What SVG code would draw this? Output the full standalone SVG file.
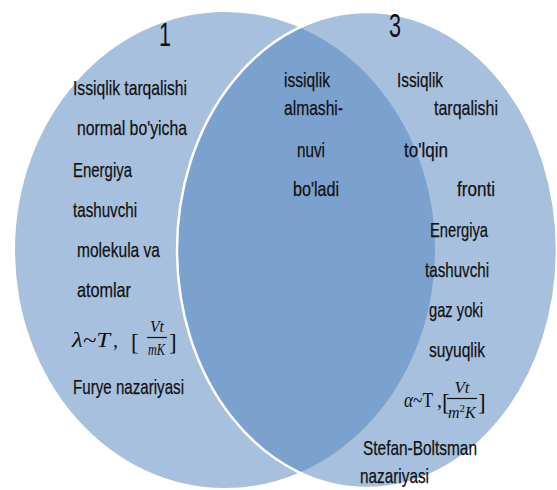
<svg xmlns="http://www.w3.org/2000/svg" width="557" height="490" viewBox="0 0 557 490">
<style>
.c{fill:#4F81BD;fill-opacity:0.5}
.t{font-family:"Liberation Sans",Arial,sans-serif;font-size:21px;fill:#111;stroke:#111;stroke-width:0.25}
.n{font-family:"Liberation Sans",Arial,sans-serif;font-size:33px;fill:#111}
.m{font-family:"Liberation Serif","Times New Roman",serif;font-style:italic;fill:#111}
.r{font-family:"Liberation Serif","Times New Roman",serif;fill:#111}
</style>
<rect width="557" height="490" fill="#fff"/>
<g id="set1">
<ellipse class="c" cx="225" cy="250" rx="210" ry="238"/>
</g>
<g id="set3">
<ellipse class="c" cx="367" cy="250" rx="190" ry="238" stroke="#fff" stroke-width="2.5"/>
</g>
<g id="set1-text">
<text class="n" x="159" y="46" textLength="12" lengthAdjust="spacingAndGlyphs">1</text>
<text class="t" x="73" y="95" textLength="114" lengthAdjust="spacingAndGlyphs">Issiqlik tarqalishi</text>
<text class="t" x="77" y="135" textLength="110" lengthAdjust="spacingAndGlyphs">normal bo'yicha</text>
<text class="t" x="73" y="177" textLength="59" lengthAdjust="spacingAndGlyphs">Energiya</text>
<text class="t" x="73" y="217" textLength="64" lengthAdjust="spacingAndGlyphs">tashuvchi</text>
<text class="t" x="77" y="257" textLength="83" lengthAdjust="spacingAndGlyphs">molekula va</text>
<text class="t" x="77" y="297" textLength="54" lengthAdjust="spacingAndGlyphs">atomlar</text>
<text class="m" x="72" y="347" font-size="20" textLength="38" lengthAdjust="spacingAndGlyphs">λ~T</text>
<text class="m" x="113" y="347" font-size="20">,</text>
<text class="r" x="131" y="350" font-size="23">[</text>
<text class="m" x="157" y="332" font-size="16" text-anchor="middle" textLength="14" lengthAdjust="spacingAndGlyphs">Vt</text>
<line x1="147" y1="337.5" x2="167" y2="337.5" stroke="#111" stroke-width="1.2"/>
<text class="m" x="148" y="355" font-size="16" textLength="17" lengthAdjust="spacingAndGlyphs">mK</text>
<text class="r" x="169" y="350" font-size="23">]</text>
<text class="t" x="73" y="394" textLength="111" lengthAdjust="spacingAndGlyphs">Furye nazariyasi</text>
</g>
<g id="overlap-text">
<text class="t" x="284" y="87" textLength="46" lengthAdjust="spacingAndGlyphs">issiqlik</text>
<text class="t" x="284" y="115" textLength="59" lengthAdjust="spacingAndGlyphs">almashi-</text>
<text class="t" x="297" y="157" textLength="28" lengthAdjust="spacingAndGlyphs">nuvi</text>
<text class="t" x="293" y="196" textLength="46" lengthAdjust="spacingAndGlyphs">bo'ladi</text>
</g>
<g id="set3-text">
<text class="n" x="389" y="37" textLength="12" lengthAdjust="spacingAndGlyphs">3</text>
<text class="t" x="397" y="87" textLength="46" lengthAdjust="spacingAndGlyphs">Issiqlik</text>
<text class="t" x="434" y="115" textLength="64" lengthAdjust="spacingAndGlyphs">tarqalishi</text>
<text class="t" x="404" y="157" textLength="44" lengthAdjust="spacingAndGlyphs">to'lqin</text>
<text class="t" x="457" y="196" textLength="38" lengthAdjust="spacingAndGlyphs">fronti</text>
<text class="t" x="430" y="237" textLength="58" lengthAdjust="spacingAndGlyphs">Energiya</text>
<text class="t" x="425" y="277" textLength="64" lengthAdjust="spacingAndGlyphs">tashuvchi</text>
<text class="t" x="429" y="317" textLength="54" lengthAdjust="spacingAndGlyphs">gaz yoki</text>
<text class="t" x="429" y="357" textLength="56" lengthAdjust="spacingAndGlyphs">suyuqlik</text>
<text class="r" x="404" y="407" font-size="20" textLength="29" lengthAdjust="spacingAndGlyphs"><tspan font-style="italic">α</tspan>~T</text>
<text class="r" x="437" y="407" font-size="20">,</text>
<text class="r" x="442" y="410" font-size="23">[</text>
<text class="m" x="462" y="393" font-size="16" text-anchor="middle" textLength="15" lengthAdjust="spacingAndGlyphs">Vt</text>
<line x1="447" y1="398.5" x2="477" y2="398.5" stroke="#111" stroke-width="1.2"/>
<text class="m" x="448" y="418" font-size="16">m<tspan font-style="normal" font-size="11" dy="-6">2</tspan><tspan dy="6">K</tspan></text>
<text class="r" x="478" y="410" font-size="23">]</text>
<text class="t" x="363" y="455" textLength="114" lengthAdjust="spacingAndGlyphs">Stefan-Boltsman</text>
<text class="t" x="360" y="483" textLength="69" lengthAdjust="spacingAndGlyphs">nazariyasi</text>
</g>
</svg>
